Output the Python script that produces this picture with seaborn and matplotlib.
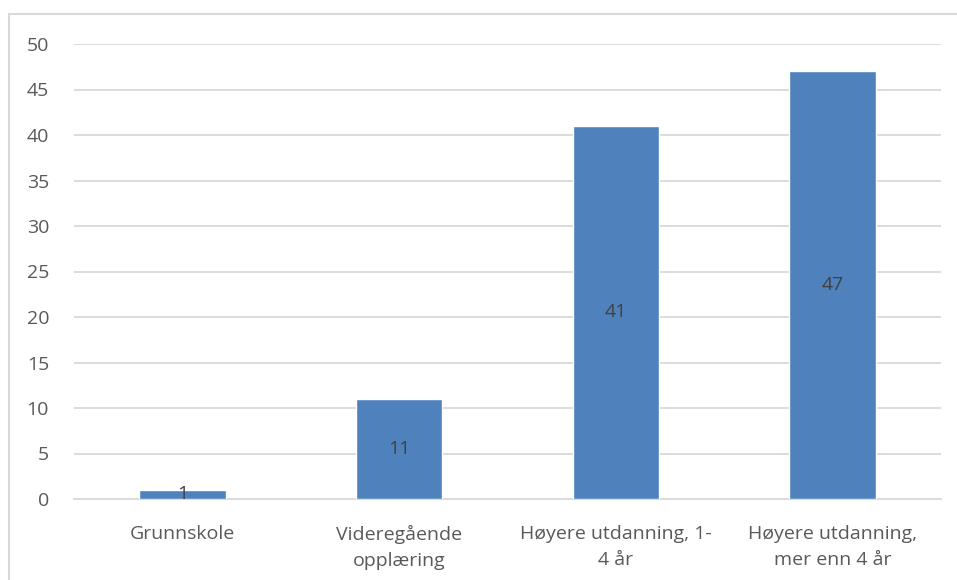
import numpy as np
import pandas as pd
import matplotlib
matplotlib.use("Agg")
import matplotlib.pyplot as plt
import seaborn as sns
from matplotlib.patches import Rectangle

# data
categories = ["Grunnskole", "Videregående\nopplæring", "Høyere utdanning, 1-\n4 år", "Høyere utdanning,\nmer enn 4 år"]
values = [1, 11, 41, 47]

df = pd.DataFrame({"kategori": categories, "antall": values})

sns.set_theme(style="white")
plt.rcParams['font.family'] = ['Open Sans', 'DejaVu Sans']

fig = plt.figure(figsize=(9.57, 5.8), dpi=100)
ax = fig.add_axes([74 / 957, 1 - 499 / 580, (941 - 74) / 957, (499 - 44) / 580])

# outer chart border like an Excel chart area
fig.patches.append(Rectangle((9 / 957, -0.05), 1.2, 1 - 14 / 580 + 0.05,
                             transform=fig.transFigure, fill=False,
                             edgecolor="#D9D9D9", linewidth=1.5, zorder=0))

sns.barplot(data=df, x="kategori", y="antall", color="#4F81BD", saturation=1,
            width=0.40, ax=ax, zorder=3)

ax.set_ylim(0, 50)
ax.set_yticks(np.arange(0, 51, 5))
ax.yaxis.grid(True, color="#D9D9D9", linewidth=1.3, zorder=0)
ax.set_axisbelow(True)
for s in ["top", "right", "left"]:
    ax.spines[s].set_visible(False)
ax.spines["bottom"].set_color("#D9D9D9")
ax.spines["bottom"].set_linewidth(1.3)

ax.set_xlabel("")
ax.set_ylabel("")
ax.tick_params(axis="y", length=0, pad=18, labelsize=14, labelcolor="#595959")
ax.tick_params(axis="x", length=0, pad=19, labelsize=14, labelcolor="#595959")
for lab in ax.get_xticklabels():
    lab.set_linespacing(1.55)

# value labels in the middle of each bar
for i, v in enumerate(values):
    ax.text(i, v / 2, str(v), ha="center", va="center", fontsize=14, color="#404040", zorder=4)

fig.savefig("out.png", dpi=100)
